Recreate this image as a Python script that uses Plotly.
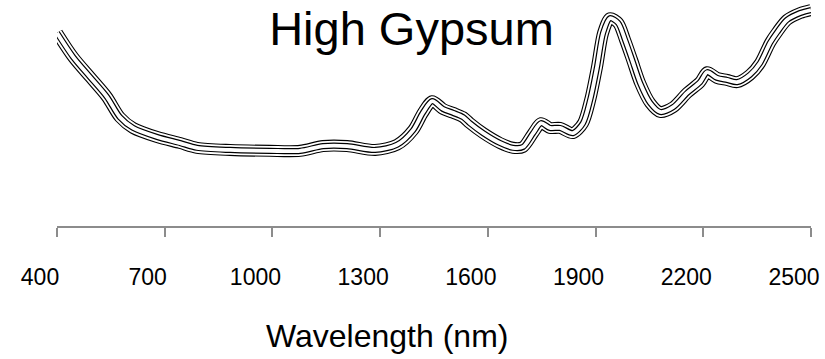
import plotly.graph_objects as go

wavelength = [400, 445, 492, 539, 575, 612, 679, 743, 790, 882, 993, 1077, 1141, 1208,
              1286, 1347, 1392, 1419, 1445, 1475, 1503, 1531, 1550, 1587, 1634, 1670,
              1698, 1726, 1748, 1773, 1801, 1837, 1865, 1885, 1904, 1921, 1940, 1963,
              1982, 2002, 2024, 2052, 2080, 2116, 2155, 2191, 2211, 2238, 2266, 2294,
              2330, 2358, 2386, 2406, 2433, 2470, 2500]
absorbance = [0.547, 0.491, 0.445, 0.399, 0.352, 0.327, 0.306, 0.292, 0.281, 0.276, 0.274,
              0.274, 0.285, 0.285, 0.276, 0.288, 0.322, 0.362, 0.389, 0.371, 0.362, 0.352,
              0.338, 0.315, 0.292, 0.281, 0.283, 0.315, 0.338, 0.327, 0.327, 0.315, 0.338,
              0.392, 0.468, 0.547, 0.581, 0.570, 0.531, 0.484, 0.431, 0.385, 0.364, 0.375,
              0.408, 0.433, 0.456, 0.443, 0.438, 0.433, 0.450, 0.477, 0.524, 0.549, 0.577,
              0.593, 0.600]
tick_vals = [400, 700, 1000, 1300, 1600, 1900, 2200, 2500]
tick_text = ["400", "700", "1000", "1300", "1600", "1900", "2200", "2500"]
title_text = "High Gypsum"
x_title = "Wavelength (nm)"

fig = go.Figure()
layers = [(12, "black"), (9.8, "white"), (6.2, "black"), (3.8, "white")]
for w, c in layers:
    fig.add_trace(go.Scatter(x=wavelength, y=absorbance, mode="lines",
                             line=dict(color=c, width=w, shape="spline", smoothing=0.8),
                             hoverinfo="skip", showlegend=False))

fig.add_annotation(text=x_title, xref="paper", yref="paper",
                   x=(387 - 57) / (825 - 57 - 14), xanchor="center",
                   y=-(336 - 226) / 226, yanchor="middle", showarrow=False,
                   font=dict(size=32, color="black"))

fig.update_layout(
    width=825, height=359,
    margin=dict(l=57, r=14, t=0, b=133),
    plot_bgcolor="white", paper_bgcolor="white",
    font=dict(family="Liberation Sans, Arial, sans-serif", color="black"),
    title=dict(text=title_text, x=(270 + 553) / 2 / 825, xanchor="center",
               yref="container", y=1 - 28.5 / 359, yanchor="middle",
               font=dict(size=47, color="black")),
    xaxis=dict(range=[400, 2500], tickvals=tick_vals, ticktext=tick_text,
               showline=True, linecolor="#8c8c8c", linewidth=2,
               ticks="outside", ticklen=9, tickwidth=2, tickcolor="#8c8c8c",
               showgrid=False, zeroline=False,
               tickfont=dict(size=23, color="black"),
               ticklabelshift=-17, ticklabelstandoff=20),
    yaxis=dict(range=[0.1, 0.6231], visible=False),
)

fig.write_html("out.html")
